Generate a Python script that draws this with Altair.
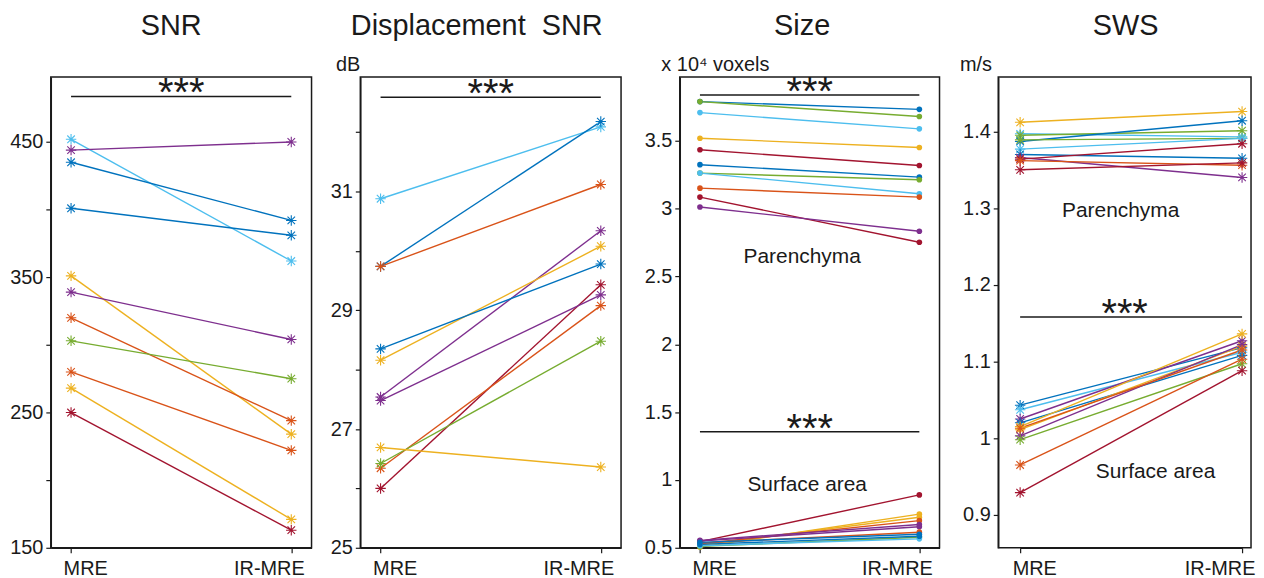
import altair as alt
import pandas as pd

BLUE = "#0072BD"; ORANGE = "#D95319"; YELLOW = "#EDB120"; PURPLE = "#7E2F8E"
GREEN = "#77AC30"; LBLUE = "#4DBEEE"; CRIMSON = "#A2142F"

conds = ["MRE", "IR-MRE"]

# ---- SNR ----
snr_colors = [LBLUE, PURPLE, BLUE, BLUE, YELLOW, PURPLE, ORANGE, GREEN, ORANGE, YELLOW, CRIMSON]
snr_mre = [452, 444, 435, 401, 351, 339, 320, 303, 280, 268, 250]
snr_ir = [362, 450, 392, 381, 234, 304, 244, 275, 222, 171, 163]

# ---- Displacement SNR (dB) ----
dsnr_colors = [LBLUE, BLUE, ORANGE, PURPLE, YELLOW, BLUE, CRIMSON, PURPLE, ORANGE, GREEN, YELLOW]
dsnr_mre = [30.88, 29.74, 29.74, 27.54, 28.16, 28.35, 26.00, 27.48, 26.34, 26.42, 26.69]
dsnr_ir = [32.09, 32.18, 31.12, 30.34, 30.08, 29.78, 29.43, 29.26, 29.08, 28.48, 26.36]

# ---- Size (x 10^4 voxels) ----
par_colors = [BLUE, GREEN, LBLUE, YELLOW, CRIMSON, BLUE, GREEN, LBLUE, ORANGE, CRIMSON, PURPLE]
par_mre = [3.789, 3.789, 3.708, 3.519, 3.434, 3.324, 3.262, 3.262, 3.151, 3.085, 3.012]
par_ir = [3.732, 3.679, 3.588, 3.451, 3.318, 3.232, 3.213, 3.110, 3.085, 2.752, 2.833]

surf_colors = [CRIMSON, YELLOW, YELLOW, ORANGE, PURPLE, PURPLE, ORANGE, BLUE, GREEN, LBLUE, BLUE]
surf_mre = [0.545, 0.505, 0.520, 0.530, 0.555, 0.550, 0.535, 0.540, 0.510, 0.515, 0.525]
surf_ir = [0.890, 0.748, 0.725, 0.700, 0.672, 0.655, 0.615, 0.600, 0.578, 0.566, 0.585]

# ---- SWS (m/s) ----
swsp_colors = [YELLOW, LBLUE, GREEN, BLUE, GREEN, LBLUE, BLUE, PURPLE, CRIMSON, ORANGE, CRIMSON]
swsp_mre = [1.412, 1.397, 1.395, 1.387, 1.389, 1.377, 1.370, 1.366, 1.364, 1.362, 1.350]
swsp_ir = [1.426, 1.393, 1.401, 1.414, 1.391, 1.391, 1.365, 1.340, 1.384, 1.356, 1.359]

swss_colors = [BLUE, LBLUE, PURPLE, BLUE, YELLOW, YELLOW, PURPLE, GREEN, ORANGE, CRIMSON, ORANGE]
swss_mre = [1.043, 1.037, 1.025, 1.020, 1.015, 1.011, 1.003, 0.998, 0.965, 0.929, 1.013]
swss_ir = [1.118, 1.112, 1.127, 1.108, 1.136, 1.120, 1.122, 1.097, 1.103, 1.088, 1.115]

# significance bars (value on y axis)
snr_sig = [483.6]
dsnr_sig = [32.59]
size_sig = [3.838, 1.355]
sws_sig = [1.158]

titles = ["SNR", "Displacement\u00a0 SNR", "Size", "SWS"]
units = ["", "dB", "x 10\u2074 voxels", "m/s"]

FONT = "Liberation Sans"
TXT = "#1a1a1a"
H = 473
ASTER = "M0,-1L0,1M-1,0L1,0M-0.72,-0.72L0.72,0.72M-0.72,0.72L0.72,-0.72"


def long_df(prefix, mre, ir, colors):
    rows = []
    for i, (a, b, c) in enumerate(zip(mre, ir, colors)):
        rows.append({"id": f"{prefix}{i}", "cond": "MRE", "v": a, "col": c})
        rows.append({"id": f"{prefix}{i}", "cond": "IR-MRE", "v": b, "col": c})
    return pd.DataFrame(rows)


def panel(series, domain, tvals, label_expr, title, title_x, unit, unit_dx, marker,
          sigs, notes, width, xscale):
    xenc = alt.X("cond:N", scale=xscale,
                 axis=alt.Axis(title=None, labelAngle=0, labelPadding=6,
                               labelAlign={"condition": {"test": "datum.value == 'MRE'", "value": "left"}, "value": "right"},
                               labelOffset={"condition": {"test": "datum.value == 'MRE'", "value": -8}, "value": 13}))
    yscale = alt.Scale(domain=domain, nice=False, zero=False)
    yaxis = alt.Axis(values=tvals, labelExpr=label_expr, title=unit, titleAngle=0,
                     titleAlign="left", titleBaseline="alphabetic", titleX=unit_dx, titleY=-7,
                     titleFontSize=20, titleFont=FONT, titleFontWeight="normal", titleColor=TXT)
    layers = []
    for df in series:
        base = alt.Chart(df)
        enc = dict(x=xenc, y=alt.Y("v:Q", scale=yscale, axis=yaxis),
                   color=alt.Color("col:N", scale=None), detail="id:N")
        layers.append(base.mark_line(strokeWidth=1.4).encode(**enc))
        if marker == "star":
            layers.append(base.mark_point(shape=ASTER, size=110, filled=False, strokeWidth=1.1, opacity=1).encode(**enc))
        else:
            layers.append(base.mark_circle(size=32, opacity=1).encode(**enc))
    sig_df = pd.DataFrame({"x1": ["MRE"] * len(sigs), "x2": ["IR-MRE"] * len(sigs), "y": sigs, "t": ["***"] * len(sigs)})
    sig = alt.Chart(sig_df)
    layers.append(sig.mark_rule(color=TXT, strokeWidth=1.5).encode(
        x=alt.X("x1:N", scale=xscale), x2="x2", y=alt.Y("y:Q", scale=yscale)))
    layers.append(sig.mark_text(fontSize=40, font=FONT, color=TXT, baseline="alphabetic", dy=10).encode(
        x=alt.value(width / 2), y=alt.Y("y:Q", scale=yscale), text="t:N"))
    for (label, yv, xpx) in notes:
        ndf = pd.DataFrame({"label": [label], "y": [yv]})
        layers.append(alt.Chart(ndf).mark_text(fontSize=21, font=FONT, color=TXT, baseline="alphabetic").encode(
            x=alt.value(xpx), y=alt.Y("y:Q", scale=yscale), text="label:N"))
    tdf = pd.DataFrame({"t": [title]})
    layers.append(alt.Chart(tdf).mark_text(fontSize=29, font=FONT, color=TXT, baseline="alphabetic").encode(
        x=alt.value(title_x), y=alt.value(-42), text="t:N"))
    return alt.layer(*layers).properties(width=width, height=H)


def pscale():
    return alt.Scale(type="point", domain=conds, padding=0.092)


p1 = panel([long_df("a", snr_mre, snr_ir, snr_colors)], [150, 498],
           [150, 200, 250, 300, 350, 400, 450],
           "datum.value % 100 == 50 ? format(datum.value, 'd') : ''", titles[0], 121, units[0], 0, "star",
           snr_sig, [], 262, pscale())

p2 = panel([long_df("b", dsnr_mre, dsnr_ir, dsnr_colors)], [25, 32.93],
           [25, 26, 27, 28, 29, 30, 31, 32],
           "datum.value % 2 == 1 ? format(datum.value, 'd') : ''", titles[1], 117, units[1], -25, "star",
           dsnr_sig, [], 262, pscale())

p3 = panel([long_df("c", par_mre, par_ir, par_colors), long_df("d", surf_mre, surf_ir, surf_colors)],
           [0.5, 3.97], [0.5, 1, 1.5, 2, 2.5, 3, 3.5],
           "format(datum.value, '~g')", titles[2], 123, units[2], -19, "dot",
           size_sig, [("Parenchyma", 2.60, 123), ("Surface area", 0.916, 128)], 261, pscale())

p4 = panel([long_df("e", swsp_mre, swsp_ir, swsp_colors), long_df("f", swss_mre, swss_ir, swss_colors)],
           [0.857, 1.471], [0.9, 1.0, 1.1, 1.2, 1.3, 1.4],
           "format(datum.value, '~g')", titles[3], 128, units[3], -39, "star",
           sws_sig, [("Parenchyma", 1.289, 123), ("Surface area", 0.948, 158)], 254,
           alt.Scale(type="point", domain=conds, padding=0, range=[22, 245]))

right = alt.hconcat(p2, p3, p4, spacing=59, bounds="flush")
chart = alt.hconcat(p1, right, spacing=49, bounds="flush").properties(
    padding={"left": 0, "top": 2, "right": 0, "bottom": 0}
).configure_axis(
    labelFont=FONT, labelFontSize=20, labelColor=TXT, domainColor=TXT, tickColor=TXT,
    domainWidth=1.5, tickWidth=1.2, tickSize=5, grid=False, labelPadding=3
).configure_view(stroke=TXT, strokeWidth=1.5)

chart.save("out.html", embed_options={"renderer": "svg", "actions": False})
